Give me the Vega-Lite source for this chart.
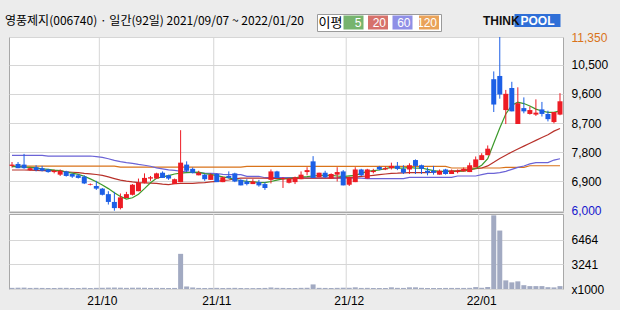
{
  "$schema": "https://vega.github.io/schema/vega-lite/v6.json",
  "background": "#ececec",
  "padding": {"left": 4, "top": 13, "right": 0, "bottom": 0},
  "config": {"font": "Liberation Sans", "view": {"stroke": "#a8a8a8", "fill": "#ffffff"}, "axis": {"gridColor": "#d6d6d6", "gridWidth": 1, "gridOpacity": 1}},
  "data": {"values": [
    {"d":"2021-09-07","o":7380,"h":7500,"l":7330,"c":7420,"v":150,"m5":7355,"m20":7253,"m60":7705,"m120":7375},
    {"d":"2021-09-08","o":7440,"h":7500,"l":7310,"c":7310,"v":170,"m5":7355,"m20":7253,"m60":7705,"m120":7375},
    {"d":"2021-09-09","o":7420,"h":7750,"l":7290,"c":7310,"v":180,"m5":7340,"m20":7253,"m60":7705,"m120":7375},
    {"d":"2021-09-10","o":7250,"h":7340,"l":7230,"c":7310,"v":140,"m5":7335,"m20":7250,"m60":7705,"m120":7375},
    {"d":"2021-09-13","o":7340,"h":7400,"l":7210,"c":7250,"v":150,"m5":7320,"m20":7240,"m60":7705,"m120":7375},
    {"d":"2021-09-14","o":7310,"h":7380,"l":7210,"c":7230,"v":140,"m5":7290,"m20":7232,"m60":7705,"m120":7375},
    {"d":"2021-09-15","o":7270,"h":7290,"l":7170,"c":7190,"v":130,"m5":7273,"m20":7232,"m60":7684,"m120":7375},
    {"d":"2021-09-16","o":7190,"h":7270,"l":7150,"c":7230,"v":130,"m5":7250,"m20":7232,"m60":7684,"m120":7375},
    {"d":"2021-09-17","o":7110,"h":7270,"l":7070,"c":7230,"v":150,"m5":7232,"m20":7225,"m60":7684,"m120":7375},
    {"d":"2021-09-23","o":7210,"h":7230,"l":7050,"c":7070,"v":150,"m5":7190,"m20":7200,"m60":7684,"m120":7375},
    {"d":"2021-09-24","o":7130,"h":7150,"l":7010,"c":7050,"v":130,"m5":7160,"m20":7185,"m60":7684,"m120":7375},
    {"d":"2021-09-27","o":7090,"h":7130,"l":6990,"c":7010,"v":130,"m5":7120,"m20":7170,"m60":7684,"m120":7375},
    {"d":"2021-09-28","o":7050,"h":7090,"l":6820,"c":6840,"v":160,"m5":7060,"m20":7150,"m60":7684,"m120":7375},
    {"d":"2021-09-29","o":6800,"h":6840,"l":6780,"c":6820,"v":130,"m5":6980,"m20":7135,"m60":7684,"m120":7375},
    {"d":"2021-09-30","o":6760,"h":6920,"l":6640,"c":6680,"v":150,"m5":6890,"m20":7115,"m60":7665,"m120":7375},
    {"d":"2021-10-01","o":6680,"h":6700,"l":6470,"c":6490,"v":160,"m5":6790,"m20":7090,"m60":7640,"m120":7375},
    {"d":"2021-10-05","o":6510,"h":6600,"l":6190,"c":6270,"v":180,"m5":6680,"m20":7040,"m60":7600,"m120":7375},
    {"d":"2021-10-06","o":6270,"h":6580,"l":6000,"c":6080,"v":190,"m5":6550,"m20":6990,"m60":7550,"m120":7375},
    {"d":"2021-10-07","o":6080,"h":6530,"l":6040,"c":6410,"v":170,"m5":6440,"m20":6940,"m60":7510,"m120":7340},
    {"d":"2021-10-08","o":6390,"h":6580,"l":6390,"c":6510,"v":150,"m5":6360,"m20":6910,"m60":7480,"m120":7340},
    {"d":"2021-10-12","o":6490,"h":6820,"l":6470,"c":6800,"v":170,"m5":6400,"m20":6885,"m60":7455,"m120":7340},
    {"d":"2021-10-13","o":6600,"h":6990,"l":6600,"c":6860,"v":170,"m5":6510,"m20":6865,"m60":7425,"m120":7340},
    {"d":"2021-10-14","o":6860,"h":7150,"l":6840,"c":7010,"v":160,"m5":6680,"m20":6855,"m60":7400,"m120":7340},
    {"d":"2021-10-15","o":6990,"h":7070,"l":6920,"c":7030,"v":140,"m5":6860,"m20":6848,"m60":7370,"m120":7340},
    {"d":"2021-10-18","o":6990,"h":7170,"l":6990,"c":7150,"v":150,"m5":7000,"m20":6842,"m60":7320,"m120":7340},
    {"d":"2021-10-19","o":7170,"h":7210,"l":7010,"c":7010,"v":140,"m5":7040,"m20":6820,"m60":7290,"m120":7340},
    {"d":"2021-10-20","o":7090,"h":7110,"l":6950,"c":6990,"v":130,"m5":7080,"m20":6805,"m60":7260,"m120":7340},
    {"d":"2021-10-21","o":6820,"h":6990,"l":6820,"c":6970,"v":140,"m5":7130,"m20":6830,"m60":7240,"m120":7340},
    {"d":"2021-10-22","o":6880,"h":8480,"l":6880,"c":7480,"v":4600,"m5":7160,"m20":6842,"m60":7215,"m120":7340},
    {"d":"2021-10-25","o":7420,"h":7520,"l":7190,"c":7230,"v":330,"m5":7170,"m20":6842,"m60":7195,"m120":7340},
    {"d":"2021-10-26","o":7290,"h":7330,"l":7150,"c":7170,"v":200,"m5":7180,"m20":6842,"m60":7175,"m120":7340},
    {"d":"2021-10-27","o":7090,"h":7230,"l":7090,"c":7170,"v":140,"m5":7190,"m20":6860,"m60":7165,"m120":7340},
    {"d":"2021-10-28","o":7110,"h":7130,"l":6920,"c":6970,"v":130,"m5":7140,"m20":6863,"m60":7155,"m120":7340},
    {"d":"2021-10-29","o":6950,"h":7150,"l":6950,"c":7110,"v":140,"m5":7120,"m20":6890,"m60":7150,"m120":7340},
    {"d":"2021-11-01","o":7130,"h":7150,"l":6880,"c":6880,"v":150,"m5":7080,"m20":6904,"m60":7145,"m120":7340},
    {"d":"2021-11-02","o":6880,"h":7050,"l":6880,"c":7030,"v":130,"m5":7040,"m20":6930,"m60":7120,"m120":7340},
    {"d":"2021-11-03","o":7070,"h":7210,"l":6990,"c":7010,"v":140,"m5":7010,"m20":6945,"m60":7110,"m120":7340},
    {"d":"2021-11-04","o":7150,"h":7170,"l":6880,"c":6900,"v":150,"m5":6960,"m20":6980,"m60":7110,"m120":7340},
    {"d":"2021-11-05","o":6950,"h":6970,"l":6780,"c":6780,"v":130,"m5":6930,"m20":7006,"m60":7110,"m120":7340},
    {"d":"2021-11-08","o":6900,"h":6970,"l":6780,"c":6820,"v":120,"m5":6905,"m20":7006,"m60":7060,"m120":7365},
    {"d":"2021-11-09","o":6820,"h":6970,"l":6820,"c":6900,"v":120,"m5":6890,"m20":7006,"m60":7060,"m120":7365},
    {"d":"2021-11-10","o":6880,"h":6950,"l":6740,"c":6780,"v":130,"m5":6870,"m20":7006,"m60":7060,"m120":7365},
    {"d":"2021-11-11","o":6820,"h":6880,"l":6640,"c":6700,"v":140,"m5":6865,"m20":7000,"m60":7016,"m120":7365},
    {"d":"2021-11-12","o":6950,"h":7270,"l":6840,"c":7210,"v":200,"m5":6900,"m20":6995,"m60":7016,"m120":7365},
    {"d":"2021-11-15","o":7210,"h":7230,"l":7010,"c":7010,"v":150,"m5":6940,"m20":6990,"m60":7016,"m120":7365},
    {"d":"2021-11-16","o":6970,"h":7030,"l":6700,"c":7010,"v":140,"m5":6980,"m20":6986,"m60":7016,"m120":7365},
    {"d":"2021-11-17","o":6860,"h":7010,"l":6840,"c":6990,"v":130,"m5":7000,"m20":6986,"m60":7016,"m120":7365},
    {"d":"2021-11-18","o":6880,"h":7050,"l":6820,"c":7030,"v":130,"m5":7015,"m20":6990,"m60":7016,"m120":7365},
    {"d":"2021-11-19","o":6970,"h":7210,"l":6970,"c":7110,"v":150,"m5":7040,"m20":7000,"m60":7016,"m120":7365},
    {"d":"2021-11-22","o":7190,"h":7340,"l":7090,"c":7250,"v":160,"m5":7050,"m20":7006,"m60":7006,"m120":7365},
    {"d":"2021-11-23","o":7520,"h":7680,"l":7010,"c":7010,"v":600,"m5":7068,"m20":7006,"m60":7006,"m120":7365},
    {"d":"2021-11-24","o":7030,"h":7170,"l":7030,"c":7170,"v":150,"m5":7088,"m20":7006,"m60":7006,"m120":7365},
    {"d":"2021-11-25","o":7170,"h":7230,"l":7010,"c":7030,"v":140,"m5":7088,"m20":7006,"m60":7006,"m120":7365},
    {"d":"2021-11-26","o":6990,"h":7150,"l":6990,"c":7130,"v":130,"m5":7088,"m20":7006,"m60":7006,"m120":7365},
    {"d":"2021-11-29","o":7110,"h":7340,"l":6900,"c":7190,"v":150,"m5":7068,"m20":7010,"m60":7006,"m120":7365},
    {"d":"2021-11-30","o":7210,"h":7250,"l":6780,"c":6780,"v":170,"m5":7050,"m20":7020,"m60":7006,"m120":7365},
    {"d":"2021-12-01","o":6800,"h":7050,"l":6760,"c":7030,"v":160,"m5":7070,"m20":7027,"m60":7006,"m120":7365},
    {"d":"2021-12-02","o":6880,"h":7340,"l":6880,"c":7270,"v":220,"m5":7090,"m20":7035,"m60":7006,"m120":7365},
    {"d":"2021-12-03","o":7270,"h":7290,"l":7070,"c":7090,"v":140,"m5":7150,"m20":7060,"m60":7006,"m120":7365},
    {"d":"2021-12-06","o":6990,"h":7290,"l":6990,"c":7270,"v":150,"m5":7212,"m20":7068,"m60":6990,"m120":7365},
    {"d":"2021-12-07","o":7190,"h":7290,"l":7150,"c":7230,"v":130,"m5":7232,"m20":7090,"m60":6990,"m120":7365},
    {"d":"2021-12-08","o":7350,"h":7380,"l":7250,"c":7270,"v":130,"m5":7253,"m20":7109,"m60":6990,"m120":7365},
    {"d":"2021-12-09","o":7270,"h":7360,"l":7250,"c":7310,"v":130,"m5":7294,"m20":7130,"m60":6990,"m120":7365},
    {"d":"2021-12-10","o":7310,"h":7480,"l":7270,"c":7380,"v":220,"m5":7335,"m20":7150,"m60":6990,"m120":7365},
    {"d":"2021-12-13","o":7380,"h":7500,"l":7250,"c":7290,"v":150,"m5":7314,"m20":7155,"m60":6990,"m120":7365},
    {"d":"2021-12-14","o":7290,"h":7400,"l":7130,"c":7170,"v":140,"m5":7314,"m20":7165,"m60":6990,"m120":7365},
    {"d":"2021-12-15","o":7270,"h":7460,"l":7130,"c":7400,"v":220,"m5":7335,"m20":7171,"m60":7027,"m120":7365},
    {"d":"2021-12-16","o":7560,"h":7580,"l":7130,"c":7380,"v":220,"m5":7314,"m20":7171,"m60":7027,"m120":7365},
    {"d":"2021-12-17","o":7400,"h":7420,"l":7130,"c":7290,"v":150,"m5":7314,"m20":7171,"m60":7027,"m120":7365},
    {"d":"2021-12-20","o":7230,"h":7330,"l":7090,"c":7170,"v":130,"m5":7273,"m20":7175,"m60":7027,"m120":7365},
    {"d":"2021-12-21","o":7230,"h":7380,"l":7110,"c":7170,"v":130,"m5":7232,"m20":7185,"m60":7027,"m120":7365},
    {"d":"2021-12-22","o":7110,"h":7270,"l":7110,"c":7230,"v":130,"m5":7212,"m20":7200,"m60":7027,"m120":7365},
    {"d":"2021-12-23","o":7270,"h":7290,"l":7110,"c":7130,"v":140,"m5":7212,"m20":7212,"m60":7028,"m120":7365},
    {"d":"2021-12-24","o":7130,"h":7270,"l":7130,"c":7230,"v":140,"m5":7212,"m20":7225,"m60":7028,"m120":7315},
    {"d":"2021-12-27","o":7190,"h":7270,"l":7150,"c":7230,"v":140,"m5":7213,"m20":7235,"m60":7069,"m120":7315},
    {"d":"2021-12-28","o":7210,"h":7330,"l":7210,"c":7290,"v":140,"m5":7220,"m20":7250,"m60":7069,"m120":7315},
    {"d":"2021-12-29","o":7190,"h":7480,"l":7190,"c":7400,"v":150,"m5":7260,"m20":7270,"m60":7069,"m120":7315},
    {"d":"2021-12-30","o":7340,"h":7670,"l":7340,"c":7580,"v":250,"m5":7300,"m20":7292,"m60":7069,"m120":7315},
    {"d":"2022-01-03","o":7560,"h":7770,"l":7560,"c":7710,"v":160,"m5":7400,"m20":7315,"m60":7110,"m120":7315},
    {"d":"2022-01-04","o":7710,"h":8010,"l":7710,"c":7910,"v":260,"m5":7600,"m20":7380,"m60":7150,"m120":7315},
    {"d":"2022-01-05","o":10050,"h":10290,"l":9040,"c":9270,"v":9640,"m5":8080,"m20":7490,"m60":7150,"m120":7315},
    {"d":"2022-01-06","o":10150,"h":11350,"l":9450,"c":9580,"v":7650,"m5":8550,"m20":7610,"m60":7172,"m120":7315},
    {"d":"2022-01-07","o":9100,"h":9720,"l":8670,"c":9600,"v":1130,"m5":8980,"m20":7710,"m60":7213,"m120":7335},
    {"d":"2022-01-10","o":9780,"h":9970,"l":9060,"c":9060,"v":870,"m5":9250,"m20":7810,"m60":7274,"m120":7335},
    {"d":"2022-01-11","o":8670,"h":9800,"l":8670,"c":9310,"v":1000,"m5":9345,"m20":7900,"m60":7336,"m120":7335},
    {"d":"2022-01-12","o":9160,"h":9490,"l":9000,"c":9060,"v":500,"m5":9300,"m20":7990,"m60":7377,"m120":7335},
    {"d":"2022-01-13","o":8980,"h":9210,"l":8960,"c":9100,"v":380,"m5":9226,"m20":8080,"m60":7440,"m120":7385},
    {"d":"2022-01-14","o":8960,"h":9430,"l":8920,"c":9020,"v":380,"m5":9130,"m20":8165,"m60":7480,"m120":7385},
    {"d":"2022-01-17","o":9120,"h":9350,"l":8900,"c":8980,"v":380,"m5":9070,"m20":8255,"m60":7480,"m120":7385},
    {"d":"2022-01-18","o":8980,"h":9080,"l":8750,"c":8820,"v":240,"m5":9030,"m20":8340,"m60":7480,"m120":7385},
    {"d":"2022-01-19","o":8730,"h":9040,"l":8690,"c":9040,"v":210,"m5":9030,"m20":8450,"m60":7560,"m120":7385},
    {"d":"2022-01-20","o":8960,"h":9620,"l":8940,"c":9370,"v":380,"m5":9075,"m20":8530,"m60":7600,"m120":7385}
  ]},
  "resolve": {"scale": {"color": "independent", "shape": "independent", "fill": "independent"}, "legend": {"color": "independent", "shape": "independent", "fill": "independent"}},
  "bounds": "flush",
  "spacing": 2,
  "vconcat": [
    {
      "width": 554,
      "height": 175,
      "encoding": {
        "x": {"field": "d", "type": "ordinal", "scale": {"paddingInner": 0, "paddingOuter": 0},
              "axis": {"labels": false, "ticks": false, "domain": false, "grid": false, "title": null, "minExtent": 0, "maxExtent": 0}}
      },
      "layer": [
        {
          "transform": [{"filter": {"field": "d", "oneOf": ["2021-10-01", "2021-11-01", "2021-12-01", "2022-01-03"]}}],
          "mark": {"type": "rule", "color": "#d6d6d6", "strokeWidth": 1},
          "encoding": {
            "x": {"field": "d", "type": "ordinal", "bandPosition": 0, "scale": {"paddingInner": 0, "paddingOuter": 0},
                  "axis": {"labels": false, "ticks": false, "domain": false, "grid": false, "title": null, "minExtent": 0, "maxExtent": 0}}
          }
        },
        {
          "transform": [{"fold": ["m120", "m60", "m20", "m5"], "as": ["ma", "val"]}],
          "mark": {"type": "line", "strokeWidth": 1.2},
          "encoding": {
            "y": {"field": "val", "type": "quantitative", "scale": {"domain": [5960, 11350], "nice": false, "zero": false},
                  "axis": {"orient": "right", "values": [6000, 6900, 7800, 8700, 9600, 10500, 11350], "labelExpr": "format(datum.value, ',')", "title": null, "ticks": false, "domain": false, "labelPadding": 8, "labelFontSize": 12, "labelOverlap": false, "labelFlush": false, "grid": true,
                           "labelColor": {"condition": [{"test": "datum.value == 11350", "value": "#d9731a"}, {"test": "datum.value == 6000", "value": "#1515cc"}], "value": "#000000"},
                           "minExtent": 58, "maxExtent": 58}},
            "stroke": {"field": "ma", "type": "nominal",
                      "scale": {"domain": ["m5", "m20", "m60", "m120"], "range": ["#3c9a2b", "#b8322b", "#6b63d6", "#d9731a"]},
                      "legend": null}
          }
        },
        {
          "mark": {"type": "rule", "strokeWidth": 1},
          "encoding": {
            "y": {"field": "l", "type": "quantitative", "scale": {"domain": [5960, 11350], "nice": false, "zero": false},
                  "axis": {"orient": "right", "values": [6000, 6900, 7800, 8700, 9600, 10500, 11350], "labelExpr": "format(datum.value, ',')", "title": null, "ticks": false, "domain": false, "labelPadding": 8, "labelFontSize": 12, "labelOverlap": false, "labelFlush": false, "grid": true,
                           "labelColor": {"condition": [{"test": "datum.value == 11350", "value": "#d9731a"}, {"test": "datum.value == 6000", "value": "#1515cc"}], "value": "#000000"},
                           "minExtent": 58, "maxExtent": 58}},
            "y2": {"field": "h"},
            "color": {"condition": {"test": "datum.c >= datum.o", "value": "#ed1c24"}, "value": "#1c5fe6"}
          }
        },
        {
          "mark": {"type": "bar", "size": 5},
          "encoding": {
            "y": {"field": "o", "type": "quantitative", "scale": {"domain": [5960, 11350], "nice": false, "zero": false},
                  "axis": {"orient": "right", "values": [6000, 6900, 7800, 8700, 9600, 10500, 11350], "labelExpr": "format(datum.value, ',')", "title": null, "ticks": false, "domain": false, "labelPadding": 8, "labelFontSize": 12, "labelOverlap": false, "labelFlush": false, "grid": true,
                           "labelColor": {"condition": [{"test": "datum.value == 11350", "value": "#d9731a"}, {"test": "datum.value == 6000", "value": "#1515cc"}], "value": "#000000"},
                           "minExtent": 58, "maxExtent": 58}},
            "y2": {"field": "c"},
            "color": {"condition": {"test": "datum.c >= datum.o", "value": "#ed1c24"}, "value": "#1c5fe6"}
          }
        }
      ]
    },
    {
      "width": 554,
      "height": 75,
      "encoding": {
        "x": {"field": "d", "type": "ordinal", "scale": {"paddingInner": 0, "paddingOuter": 0},
              "axis": {"values": ["2021-10-01", "2021-11-01", "2021-12-01", "2022-01-03"], "bandPosition": 0, "labelExpr": "substring(datum.value, 2, 4) + '/' + substring(datum.value, 5, 7)", "labelAngle": 0, "labelAlign": "center", "labelBaseline": "top", "labelPadding": 6, "labelFontSize": 12, "labelColor": "#000000", "ticks": false, "domain": false, "grid": false, "title": null, "minExtent": 22, "maxExtent": 22}}
      },
      "layer": [
        {
          "transform": [{"filter": {"field": "d", "oneOf": ["2021-10-01", "2021-11-01", "2021-12-01", "2022-01-03"]}}],
          "mark": {"type": "rule", "color": "#d6d6d6", "strokeWidth": 1},
          "encoding": {
            "x": {"field": "d", "type": "ordinal", "bandPosition": 0, "scale": {"paddingInner": 0, "paddingOuter": 0},
                  "axis": {"values": ["2021-10-01", "2021-11-01", "2021-12-01", "2022-01-03"], "bandPosition": 0, "labelExpr": "substring(datum.value, 2, 4) + '/' + substring(datum.value, 5, 7)", "labelAngle": 0, "labelAlign": "center", "labelBaseline": "top", "labelPadding": 6, "labelFontSize": 12, "labelColor": "#000000", "ticks": false, "domain": false, "grid": false, "title": null, "minExtent": 22, "maxExtent": 22}}
          }
        },
        {
          "mark": {"type": "bar", "size": 5, "color": "#a2aac2"},
          "encoding": {
            "y": {"field": "v", "type": "quantitative", "scale": {"domain": [0, 9815], "nice": false},
                  "axis": {"orient": "right", "values": [0, 3241, 6464], "format": "d", "labelExpr": "datum.value == 0 ? 'x1000' : datum.label", "title": null, "ticks": false, "domain": false, "labelPadding": 8, "labelFontSize": 12, "labelColor": "#000000", "labelOverlap": false, "labelFlush": false, "grid": true,
                           "minExtent": 58, "maxExtent": 58}}
          }
        },
        {
          "transform": [{"fold": ["m5", "m20", "m60", "m120"], "as": ["ma", "val"]}],
          "mark": {"type": "point", "filled": true, "size": 0},
          "encoding": {
            "y": {"field": "v", "type": "quantitative", "scale": {"domain": [0, 9815], "nice": false},
                  "axis": {"orient": "right", "values": [0, 3241, 6464], "format": "d", "labelExpr": "datum.value == 0 ? 'x1000' : datum.label", "title": null, "ticks": false, "domain": false, "labelPadding": 8, "labelFontSize": 12, "labelColor": "#000000", "labelOverlap": false, "labelFlush": false, "grid": true,
                           "minExtent": 58, "maxExtent": 58}},
            "color": {"field": "ma", "type": "nominal",
                      "scale": {"domain": ["m5", "m20", "m60", "m120"], "range": ["#3d9431", "#c4352c", "#6060dc", "#e07b12"]},
                      "legend": {"orient": "none", "legendX": 308, "legendY": -200, "direction": "horizontal",
                                 "title": "이평", "titleOrient": "left", "titleFont": "Noto Sans CJK KR", "titleFontSize": 13, "titleFontWeight": "normal", "titleColor": "#000000", "titlePadding": 4,
                                 "symbolType": "M-1.43,-1H1.43V1H-1.43Z", "symbolSize": 196, "symbolStrokeWidth": 0,
                                 "labelExpr": "replace(datum.label, 'm', '')", "labelAlign": "right", "labelOffset": 1, "labelColor": "#ffffff", "labelFontSize": 12,
                                 "columnPadding": 2.5, "padding": 1.5, "fillColor": "#ffffff", "strokeColor": "#9a9a9a"}}
          }
        },
        {
          "mark": {"type": "point", "filled": true, "size": 0, "color": "#2f6fd7"},
          "encoding": {
            "y": {"field": "v", "type": "quantitative", "scale": {"domain": [0, 9815], "nice": false},
                  "axis": {"orient": "right", "values": [0, 3241, 6464], "format": "d", "labelExpr": "datum.value == 0 ? 'x1000' : datum.label", "title": null, "ticks": false, "domain": false, "labelPadding": 8, "labelFontSize": 12, "labelColor": "#000000", "labelOverlap": false, "labelFlush": false, "grid": true,
                           "minExtent": 58, "maxExtent": 58}},
            "shape": {"datum": "POOL", "type": "nominal", "scale": {"range": ["M-3.54,-1H3.54V1H-3.54Z"]},
                      "legend": {"orient": "none", "legendX": 474, "legendY": -200, "title": "THINK", "titleOrient": "left", "titleFontSize": 12, "titleFontWeight": "bold", "titleColor": "#111111", "titlePadding": 11,
                                 "symbolSize": 169, "symbolStrokeWidth": 0, "symbolOpacity": 1,
                                 "labelAlign": "center", "labelOffset": -6.5, "labelColor": "#ffffff", "labelFontSize": 12, "labelFontWeight": "bold", "padding": 0}}
          }
        },
        {
          "mark": {"type": "point", "filled": true, "size": 0},
          "encoding": {
            "y": {"field": "v", "type": "quantitative", "scale": {"domain": [0, 9815], "nice": false},
                  "axis": {"orient": "right", "values": [0, 3241, 6464], "format": "d", "labelExpr": "datum.value == 0 ? 'x1000' : datum.label", "title": null, "ticks": false, "domain": false, "labelPadding": 8, "labelFontSize": 12, "labelColor": "#000000", "labelOverlap": false, "labelFlush": false, "grid": true,
                           "minExtent": 58, "maxExtent": 58}},
            "fill": {"datum": "header", "type": "nominal", "scale": {"range": ["#ececec"]},
                     "legend": {"orient": "none", "legendX": -4, "legendY": -198, "title": "영풍제지(006740) · 일간(92일) 2021/09/07 ~ 2022/01/20", "titleOrient": "left", "titleFont": "Noto Sans CJK KR", "titleFontSize": 12, "titleFontWeight": "normal", "titleColor": "#000000", "titleLimit": 400, "titlePadding": 0,
                                "symbolSize": 1, "symbolOpacity": 0, "symbolStrokeWidth": 0, "labelExpr": "''", "padding": 0}}
          }
        }
      ]
    }
  ]
}
